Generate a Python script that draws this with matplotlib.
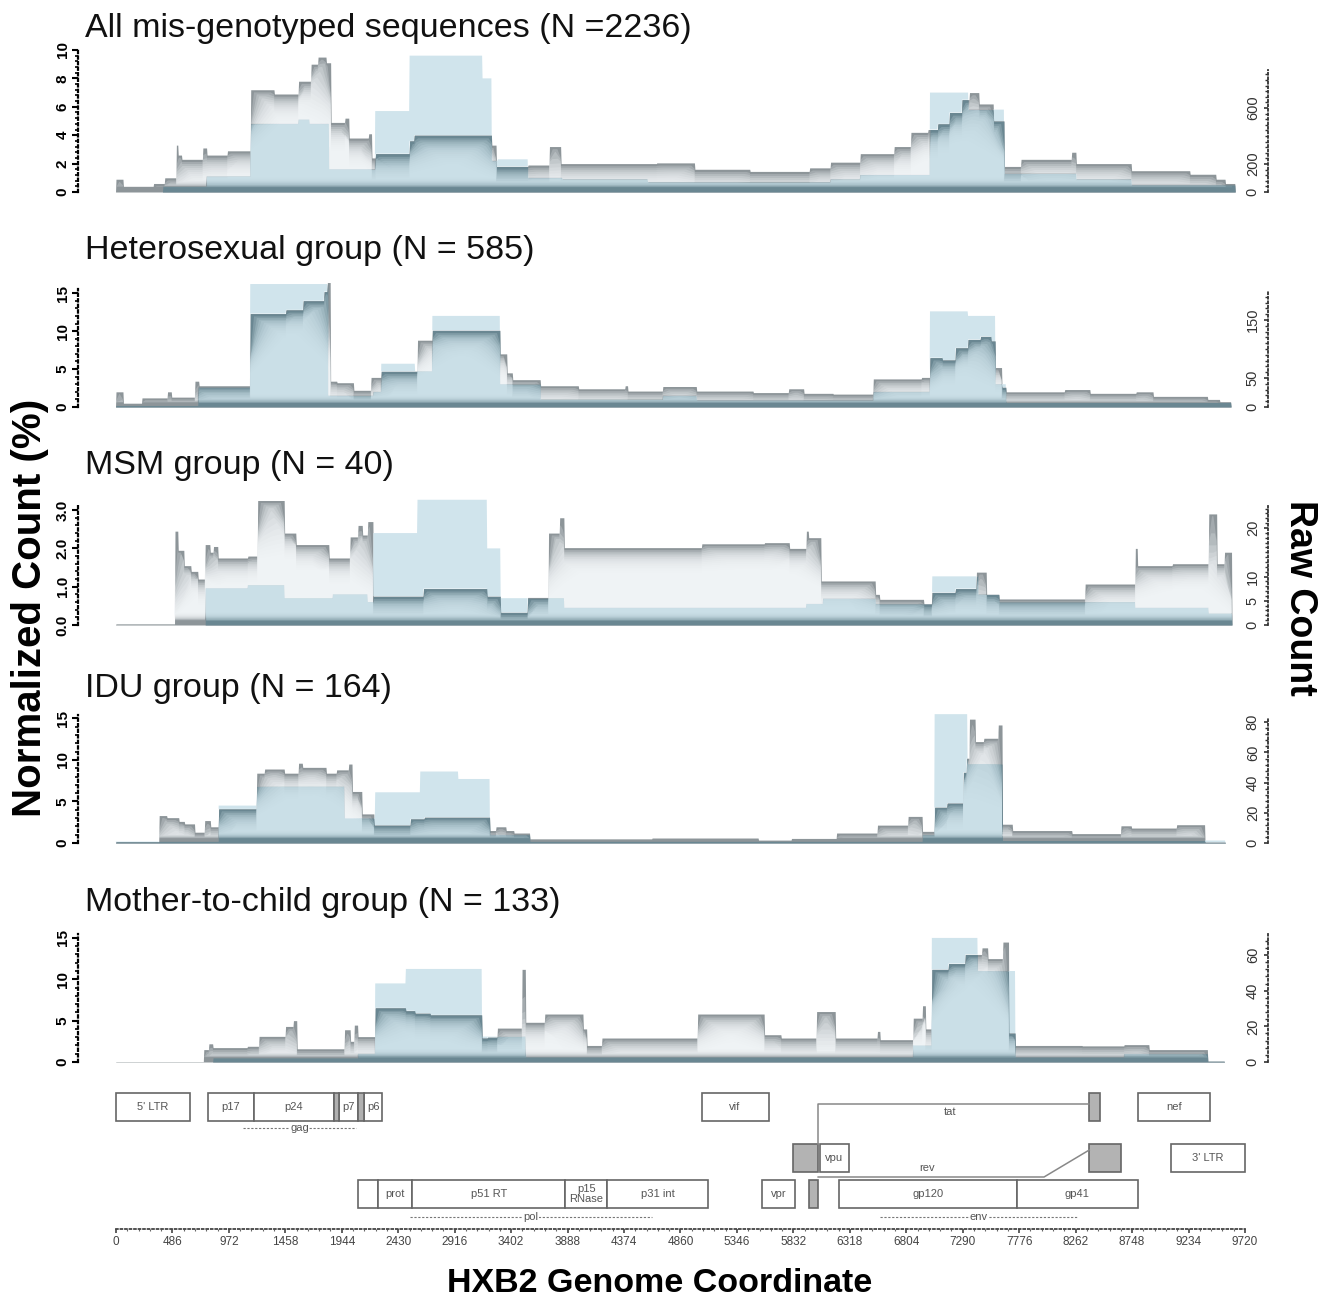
import numpy as np
import matplotlib
matplotlib.use('Agg')
import matplotlib.pyplot as plt
from matplotlib.patches import Rectangle

# ---- data ----
titles = ['All mis-genotyped sequences (N =2236)', 'Heterosexual group (N = 585)',
          'MSM group (N = 40)', 'IDU group (N = 164)', 'Mother-to-child group (N = 133)']

# normalized count (gray envelope): step edges + values
gray1_x = [0, 61, 323, 419, 517, 536, 566, 748, 783, 960, 1160, 1364, 1572, 1678, 1738, 1809, 1850, 1971, 2006, 2173,
           2203, 2234, 2527, 2567, 3234, 3275, 3548, 3729, 3831, 4655, 4983, 5458, 5969, 6151, 6408, 6698, 6843, 6990,
           7075, 7176, 7282, 7348, 7429, 7555, 7647, 7792, 8227, 8268, 8741, 9248, 9470, 9551, 9635]
gray1_y = [0.9, 0.4, 0.6, 1.0, 3.3, 2.6, 2.3, 3.1, 2.6, 2.9, 7.2, 6.9, 7.8, 9.0, 9.5, 9.1, 4.9, 5.2, 3.8, 4.1,
           2.4, 2.7, 3.6, 4.0, 3.3, 1.8, 1.9, 3.2, 2.0, 2.05, 1.6, 1.45, 1.7, 2.1, 2.7, 3.2, 4.2, 4.4,
           4.8, 5.6, 6.5, 7.0, 6.2, 5.0, 1.8, 2.3, 2.8, 2.0, 1.5, 1.25, 0.9, 0.6]
blue1_x = [404, 778, 1160, 1572, 1668, 1835, 2231, 2527, 3153, 3234, 3285, 3548, 3841, 4578, 6151, 6408, 7008, 7338,
           7647, 8268, 8741, 9635]
blue1_y = [0.4, 1.1, 4.8, 5.1, 4.8, 1.6, 5.7, 9.6, 8.0, 2.2, 2.3, 1.0, 0.9, 0.7, 0.9, 1.2, 7.0, 5.8, 1.3, 0.9, 0.5]

gray2_x = [0, 61, 222, 442, 478, 679, 716, 1153, 1463, 1609, 1792, 1819, 1847, 1901, 2047, 2193, 2284, 2594, 2723, 3306,
           3366, 3415, 3653, 3981, 4382, 4407, 4708, 4997, 5486, 5791, 5922, 6175, 6519, 6935, 7008, 7116, 7225, 7335,
           7443, 7534, 7570, 7625, 7661, 8168, 8386, 8784, 8930, 9400, 9501, 9600]
gray2_y = [2.0, 0.5, 1.2, 2.0, 1.3, 3.4, 2.8, 12.3, 12.8, 14.0, 15.2, 16.4, 3.4, 3.2, 2.2, 3.9, 4.7, 8.8, 10.1, 7.0,
           4.5, 3.6, 2.8, 2.4, 2.8, 2.1, 2.7, 2.1, 1.9, 2.4, 1.8, 1.7, 3.7, 3.9, 6.5, 6.2, 7.8, 8.9,
           9.3, 8.7, 5.2, 2.6, 2.0, 2.3, 1.8, 2.0, 1.4, 1.0, 0.7]
blue2_x = [0, 707, 1153, 1828, 2213, 2284, 2576, 2723, 3306, 3653, 4708, 4997, 6519, 7008, 7335, 7570, 7661, 9600]
blue2_y = [0.2, 2.6, 16.2, 1.5, 2.0, 5.7, 4.7, 12.0, 3.0, 1.0, 1.5, 0.9, 2.0, 12.6, 12.0, 3.0, 0.6]

gray3_x = [0, 505, 536, 586, 647, 707, 765, 809, 839, 879, 1136, 1219, 1451, 1551, 1833, 2015, 2082, 2122, 2165, 2214,
           2646, 3194, 3310, 3543, 3724, 3820, 3857, 5041, 5583, 5799, 5944, 5963, 6070, 6539, 6576, 6954, 7024, 7227,
           7405, 7495, 7603, 8343, 8776, 8793, 9096, 9408, 9480, 9541, 9606]
gray3_y = [0.03, 2.45, 1.95, 1.55, 1.4, 1.2, 2.1, 1.9, 2.05, 1.75, 1.8, 3.25, 2.4, 2.1, 1.75, 2.3, 2.6, 2.35, 2.7, 0.75,
           0.95, 0.75, 0.33, 0.72, 2.4, 2.8, 2.02, 2.12, 2.15, 2.0, 2.45, 2.28, 1.15, 0.8, 0.67, 0.55, 0.85, 0.95,
           1.38, 0.8, 0.68, 1.07, 2.0, 1.55, 1.6, 2.9, 1.6, 1.9]
blue3_x = [771, 1136, 1451, 1867, 2165, 2214, 2596, 3194, 3310, 3857, 5944, 6088, 6539, 7026, 7424, 7603, 8776, 9408, 9606]
blue3_y = [0.96, 1.04, 0.7, 0.8, 0.6, 2.4, 3.27, 2.0, 0.7, 0.45, 0.55, 0.69, 0.55, 1.27, 0.8, 0.6, 0.45, 0.3]

gray4_x = [0, 370, 439, 542, 592, 678, 764, 816, 884, 1211, 1280, 1451, 1572, 1606, 1812, 1898, 2001, 2036, 2120, 2224,
           2533, 2653, 3219, 3271, 3357, 3425, 3563, 4613, 5531, 5813, 6201, 6553, 6818, 6941, 7047, 7153, 7294, 7323,
           7347, 7399, 7470, 7593, 7629, 7718, 8229, 8652, 8741, 9129, 9375, 9551]
gray4_y = [0.15, 3.3, 3.05, 2.6, 2.3, 1.3, 2.7, 1.95, 4.1, 8.4, 8.9, 8.4, 9.6, 9.1, 8.4, 8.8, 9.5, 6.2, 3.5, 2.15,
           2.9, 3.1, 1.5, 1.95, 1.5, 1.2, 0.5, 0.6, 0.35, 0.55, 1.2, 2.15, 3.2, 1.4, 4.3, 4.8, 8.5, 10.2,
           14.9, 12.2, 12.6, 14.2, 2.26, 1.5, 1.13, 2.07, 1.8, 2.2, 0.1]
blue4_x = [0, 884, 1211, 1966, 2230, 2619, 2945, 3219, 3563, 6941, 7047, 7330, 7629, 9551]
blue4_y = [0.2, 4.5, 6.8, 3.0, 6.1, 8.6, 7.7, 1.0, 0.2, 1.0, 15.5, 9.5, 0.3]

gray5_x = [0, 753, 798, 835, 1131, 1229, 1458, 1526, 1557, 1968, 2017, 2052, 2083, 2231, 2493, 2575, 2707, 3150, 3199, 3282,
           3495, 3527, 3692, 4021, 4053, 4184, 5006, 5582, 5727, 6032, 6195, 6554, 6580, 6861, 6944, 6969, 7022, 7166,
           7310, 7454, 7508, 7635, 7688, 7742, 8318, 8679, 8895, 9400, 9543]
gray5_y = [0.05, 1.5, 2.2, 1.74, 1.9, 3.1, 4.3, 5.0, 1.6, 3.9, 2.5, 4.46, 3.07, 6.55, 6.2, 5.9, 5.7, 2.9, 3.0, 4.1,
           11.2, 4.8, 5.8, 4.0, 2.0, 2.9, 5.8, 3.3, 2.9, 6.1, 2.9, 3.7, 2.7, 5.3, 6.8, 4.0, 11.2, 11.9,
           13.0, 13.8, 12.5, 14.5, 3.5, 2.0, 1.95, 2.1, 1.5, 0.1]
blue5_x = [835, 2083, 2231, 2493, 3150, 3527, 6861, 7022, 7419, 7742, 8679, 9400, 9543]
blue5_y = [0.5, 1.0, 9.5, 11.25, 3.07, 0.6, 2.0, 15.0, 11.0, 0.6, 1.0, 0.1]

left_ticks = [[0, 2, 4, 6, 8, 10], [0, 5, 10, 15], [0, 1, 2, 3], [0, 5, 10, 15], [0, 5, 10, 15]]
left_labels = [['0', '2', '4', '6', '8', '10'], ['0', '5', '10', '15'], ['0.0', '1.0', '2.0', '3.0'],
               ['0', '5', '10', '15'], ['0', '5', '10', '15']]
right_ticks = [[0, 200, 600], [0, 50, 150], [0, 5, 10, 20], [0, 20, 40, 60, 80], [0, 20, 40, 60]]

# HXB2 genome map
row0 = [('5\' LTR', 1, 634), ('p17', 790, 1185), ('p24', 1186, 1878), ('p7', 1921, 2086), ('p6', 2134, 2292),
        ('vif', 5041, 5619), ('nef', 8797, 9417)]
row1 = [('vpu', 6062, 6310), ('3\' LTR', 9086, 9719)]
row2 = [('', 2085, 2252), ('prot', 2253, 2549), ('p51 RT', 2550, 3869), ('p15\nRNase', 3870, 4229),
        ('p31 int', 4230, 5096), ('vpr', 5559, 5850), ('gp120', 6225, 7757), ('gp41', 7758, 8795)]
gag_small = [(1879, 1920), (2087, 2133)]
tat_exons = [(5831, 6045), (8379, 8469)]
rev_exons = [(5970, 6045), (8379, 8653)]
coord_ticks = list(range(0, 9721, 486))

# ---- style ----
plt.rcParams['font.family'] = ['Liberation Sans', 'DejaVu Sans']
W, H = 1329, 1300
fig = plt.figure(figsize=(W / 100, H / 100), dpi=100)
X0, X1 = -327, 9918
GRAY = '#8d9599'
TEAL = '#6a8792'
BLUE = '#d0e4ec'
GLOW = '#f5f8fa'
xg = np.arange(-40, 9760, 4.0)


def steps(edges, vals):
    edges = np.asarray(edges, float)
    vals = np.asarray(vals, float)
    assert len(edges) == len(vals) + 1
    i = np.searchsorted(edges, xg, side='right') - 1
    out = np.zeros_like(xg)
    ok = (i >= 0) & (i < len(vals))
    out[ok] = vals[i[ok]]
    return out


def smooth(y, w):
    n = max(int(w / 4), 1)
    return np.convolve(y, np.ones(n) / n, mode='same')


def panel(top, base, ytop, gx, gy, bx, by, title, title_y, lt, ll, lmax, k, rt, rmax):
    ax = fig.add_axes([78 / W, 1 - base / H, 1190 / W, (base - top) / H])
    ax.set_xlim(X0, X1)
    ax.set_ylim(0, ytop)
    g = steps(gx, gy)
    b = steps(bx, by)
    lo = np.minimum(g, b)
    ax.fill_between(xg, 0, g, color=GRAY, lw=0)
    ax.fill_between(xg, g, b, where=b > g, color=BLUE, lw=0, interpolate=True)
    ax.fill_between(xg, 0, lo, color=TEAL, lw=0)
    band = ytop * 0.03
    nl = 14
    for j in range(nl):
        off = ytop * (0.018 + 0.0135 * j)
        s = np.minimum(g, smooth(g, 60 + 45 * j)) - off
        bot = band + off * 0.35
        top_in = np.minimum(s, b)
        ax.fill_between(xg, bot, top_in, where=top_in > bot, color=BLUE, alpha=0.22, lw=0)
        lower = np.maximum(b, bot)
        ax.fill_between(xg, lower, s, where=s > lower, color=GLOW, alpha=0.22, lw=0)

    for sp in ['top', 'right', 'bottom']:
        ax.spines[sp].set_visible(False)
    ax.spines['left'].set_linestyle((0, (1, 1.5)))
    ax.spines['left'].set_linewidth(1.6)
    ax.spines['left'].set_bounds(0, lmax)
    ax.set_xticks([])
    ax.set_yticks(lt)
    ax.set_yticklabels(ll, rotation=90, va='center', fontweight='bold', fontsize=11)
    step = (lt[1] - lt[0]) / 5
    ax.set_yticks(np.arange(0, lmax, step), minor=True)
    ax.tick_params(axis='y', which='major', length=4, width=1.5, pad=2)
    ax.tick_params(axis='y', which='minor', length=2, width=1.2)

    ax2 = ax.twinx()
    ax2.set_ylim(0, ytop * k)
    for sp in ['top', 'left', 'bottom']:
        ax2.spines[sp].set_visible(False)
    ax2.spines['right'].set_linestyle((0, (1, 1.5)))
    ax2.spines['right'].set_linewidth(1.3)
    ax2.spines['right'].set_color('#333333')
    ax2.spines['right'].set_bounds(0, rmax)
    ax2.set_yticks(rt)
    ax2.set_yticklabels([str(t) for t in rt], rotation=90, va='center', fontsize=10.5, color='#333333')
    rstep = (rt[1] - rt[0]) / 5
    ax2.set_yticks(np.arange(0, rmax, rstep), minor=True)
    ax2.tick_params(axis='y', which='major', direction='in', length=3, width=1.2, pad=-16, colors='#333333')
    ax2.tick_params(axis='y', which='minor', direction='in', length=2, width=1.0, colors='#333333')

    fig.text(85 / W, 1 - title_y / H, title, fontsize=24.5, va='center', ha='left', color='#111111')


panel(45, 192, 10.35, gray1_x, gray1_y, blue1_x, blue1_y, titles[0], 28, left_ticks[0], left_labels[0], 10.1, 101.4,
      right_ticks[0], 870)
panel(281, 407, 16.6, gray2_x, gray2_y, blue2_x, blue2_y, titles[1], 251, left_ticks[1], left_labels[1], 15.6, 13.1,
      right_ticks[1], 200)
panel(494, 625, 3.42, gray3_x, gray3_y, blue3_x, blue3_y, titles[2], 465, left_ticks[2], left_labels[2], 3.1, 7.9,
      right_ticks[2], 24.5)
panel(710, 843, 16.0, gray4_x, gray4_y, blue4_x, blue4_y, titles[3], 688, left_ticks[3], left_labels[3], 15.4, 5.51,
      right_ticks[3], 82)
panel(928, 1062, 16.2, gray5_x, gray5_y, blue5_x, blue5_y, titles[4], 903, left_ticks[4], left_labels[4], 15.5, 4.64,
      right_ticks[4], 72)

# ---- genome map ----
gm = fig.add_axes([78 / W, 1 - 1229 / H, 1190 / W, (1229 - 1085) / H])
gm.set_xlim(X0, X1)
gm.set_ylim(1229, 1085)
for sp in ['top', 'left', 'right']:
    gm.spines[sp].set_visible(False)
gm.set_yticks([])
gm.spines['bottom'].set_linestyle((0, (1, 1.5)))
gm.spines['bottom'].set_linewidth(1.3)
gm.spines['bottom'].set_color('#444444')
gm.spines['bottom'].set_bounds(0, 9720)
gm.set_xticks(coord_ticks)
gm.set_xticklabels([str(t) for t in coord_ticks], fontsize=8.5, color='#444444')
gm.set_xticks(np.arange(0, 9721, 97.2), minor=True)
gm.tick_params(axis='x', which='major', length=3, width=1.2, colors='#444444', pad=2)
gm.tick_params(axis='x', which='minor', length=1.5, width=0.8, colors='#666666')

EDGE = '#666666'
TXT = '#555555'
rows_y = [(1093, 28), (1144, 28), (1180, 28)]


def gene_box(s, e, row, label, fill='white'):
    y, h = rows_y[row]
    gm.add_patch(Rectangle((s, y), e - s, h, facecolor=fill, edgecolor=EDGE, lw=1.2))
    if label:
        gm.text((s + e) / 2, y + h / 2, label, ha='center', va='center', fontsize=8, color=TXT,
                linespacing=0.95)


for lab, s, e in row0:
    gene_box(s, e, 0, lab)
for s, e in gag_small:
    gene_box(s, e, 0, '', fill='#b0b0b0')
for lab, s, e in row1:
    gene_box(s, e, 1, lab)
for lab, s, e in row2:
    gene_box(s, e, 2, lab)
gene_box(tat_exons[0][0], tat_exons[0][1], 1, '', fill='#b3b3b3')
gene_box(tat_exons[1][0], tat_exons[1][1], 0, '', fill='#b3b3b3')
gene_box(rev_exons[0][0], rev_exons[0][1], 2, '', fill='#b3b3b3')
gene_box(rev_exons[1][0], rev_exons[1][1], 1, '', fill='#b3b3b3')

# tat / rev splice connectors
gm.plot([tat_exons[0][1], tat_exons[0][1], tat_exons[1][0]], [1144, 1104, 1104], color='#888888', lw=1.1)
gm.text(7180, 1112, 'tat', ha='center', va='center', fontsize=8, color=TXT)
gm.plot([rev_exons[0][1], 7990, rev_exons[1][0]], [1177, 1177, 1150], color='#888888', lw=1.1)
gm.text(6980, 1168, 'rev', ha='center', va='center', fontsize=8, color=TXT)

# polyprotein labels with dashes
for name, s, e, y in [('gag', 1093, 2066, 1128), ('pol', 2530, 4615, 1217), ('env', 6578, 8282, 1217)]:
    gm.plot([s, e], [y, y], color='#777777', lw=0.8, ls=(0, (2, 1.5)))
    gm.text((s + e) / 2, y, name, ha='center', va='center', fontsize=8, color=TXT,
            bbox=dict(facecolor='white', edgecolor='none', pad=0.3))

# axis titles
fig.text(660 / W, 1 - 1283 / H, 'HXB2 Genome Coordinate', fontsize=24.5, fontweight='bold', ha='center', va='center')
fig.text(30 / W, 1 - 608 / H, 'Normalized Count (%)', fontsize=29, fontweight='bold', rotation=90,
         ha='center', va='center')
fig.text(1300 / W, 1 - 598 / H, 'Raw Count', fontsize=27, fontweight='bold', rotation=-90,
         ha='center', va='center')

fig.savefig('out.png', dpi=100)
